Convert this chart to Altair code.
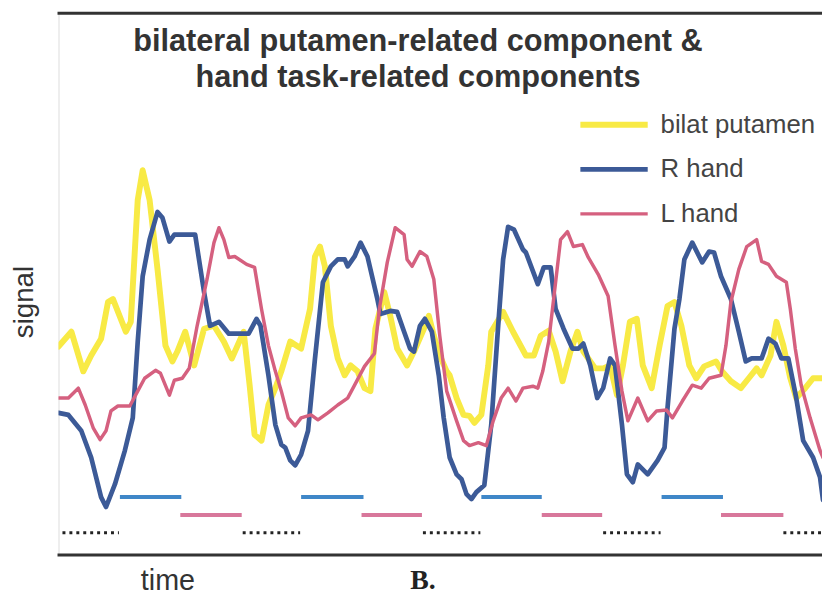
import altair as alt
import pandas as pd

# ---------------- data (arbitrary units) ----------------
series_names = ["bilat putamen", "R hand", "L hand"]
series_colors = ["#F8EA45", "#3C5A97", "#D5607F"]
series_widths = [6, 3.5, 3]

title_lines = ["bilateral putamen-related component &", "hand task-related components"]
y_label = "signal"
x_label = "time"
panel_label = "B."

put_t = [0,13,25,33,43,50,55,68,73,80,85,92,100,108,115,120,128,137,147,157,167,175,187,193,198,205,212,219,225,234,
         245,254,259,264,269,275,282,289,295,302,309,315,320,329,335,342,352,359,369,374,379,385,392,395,402,409,415,420,427,434,
         437,449,459,472,480,487,495,502,509,517,524,530,542,550,557,564,570,577,584,590,599,607,615,622,629,637,644,652,664,670,
         679,689,697,705,710,719,725,732,739,745,754,762,772]
put_s = [210,225,185,201,218,255,258,225,235,358,388,358,288,211,195,205,225,191,228,231,215,198,225,171,121,115,151,168,185,215,
         208,248,301,311,291,231,198,181,191,185,168,165,228,265,241,208,191,205,228,241,221,201,185,181,158,141,140,133,141,191,
         225,245,225,201,201,221,226,205,175,205,225,205,188,188,191,161,191,235,238,191,168,211,251,255,231,191,178,190,195,185,
         175,168,178,188,181,201,235,211,178,158,168,178,178]

rh_t = [0,10,23,33,43,48,57,67,75,80,85,92,100,105,112,117,138,147,153,162,172,192,200,204,212,219,225,229,234,239,
        245,252,259,267,275,282,289,292,299,305,312,322,325,335,342,349,355,359,365,370,377,384,389,395,402,407,412,417,422,430,
        437,444,449,454,460,469,472,484,490,497,502,510,519,525,530,537,544,550,557,562,569,574,580,585,595,605,612,615,622,627,
        632,640,650,657,662,669,679,687,694,700,710,717,724,730,737,745,752,762,769,772]
rh_s = [143,141,125,98,58,48,71,105,138,215,281,318,346,340,316,323,323,265,231,235,223,223,238,231,181,131,111,108,95,90,
        101,125,198,275,291,298,298,291,301,315,301,258,243,246,245,225,208,205,231,238,225,181,138,98,81,76,61,56,63,70,
        131,231,298,331,328,308,305,273,290,290,248,228,208,208,213,191,158,168,198,191,131,81,73,91,81,95,108,148,228,258,
        298,315,295,306,305,281,258,225,195,198,198,218,213,198,198,158,115,98,78,55]

lh_t = [0,10,20,27,35,42,48,53,60,72,80,87,98,103,112,117,125,132,140,150,157,162,167,172,178,190,198,205,212,219,
        225,232,239,245,255,262,272,282,292,299,309,319,324,332,340,349,352,357,365,372,379,385,392,402,409,415,424,432,439,447,
        454,462,469,479,484,489,495,500,507,514,520,529,535,545,555,562,569,575,585,595,604,614,620,630,640,649,657,669,674,679,
        687,695,705,710,717,725,735,739,744,750,759,769,772]
lh_s = [158,158,168,151,128,116,125,145,150,150,165,178,186,183,161,176,178,188,231,278,315,330,318,300,301,293,290,248,211,185,
        165,138,130,138,141,136,143,151,158,171,190,203,248,295,330,323,298,291,306,301,278,221,165,135,115,110,113,110,135,158,
        168,155,168,170,168,185,215,258,318,326,311,313,300,283,261,211,165,135,158,135,145,146,138,155,171,168,178,181,211,255,
        288,311,318,296,293,281,275,248,208,171,138,105,98]

# task blocks (time units)
r_start = [62, 245, 427, 609]
r_end = [124, 308, 488, 671]
l_start = [123, 306, 488, 669]
l_end = [185, 367, 549, 732]
rest_start = [4, 186, 368, 550, 732]
rest_end = [61, 244, 426, 608, 772]
block_level = {"R": 58, "L": 40, "rest": 22}

T_MAX = 771
S_MAX = 547

# ---------------- tables ----------------
rows = []
for name, ts, ss in [(series_names[0], put_t, put_s), (series_names[1], rh_t, rh_s), (series_names[2], lh_t, lh_s)]:
    for i, (t, s) in enumerate(zip(ts, ss)):
        rows.append({"series": name, "time": t, "signal": s, "i": i})
lines_df = pd.DataFrame(rows)

blk = []
for k, st, en in [("R", r_start, r_end), ("L", l_start, l_end), ("rest", rest_start, rest_end)]:
    for a, b in zip(st, en):
        blk.append({"kind": k, "start": a, "end": b, "level": block_level[k]})
blocks_df = pd.DataFrame(blk)

FONT = "Liberation Sans"
xscale = alt.Scale(domain=[0, T_MAX], nice=False, zero=False)
yscale = alt.Scale(domain=[0, S_MAX], nice=False, zero=False)

legend_cfg = dict(
    orient="none", legendX=548, legendY=100, title=None,
    symbolType="M-4,0H4", symbolSize=289, labelFontSize=26, labelFont=FONT,
    labelColor="#444444", rowPadding=19, labelOffset=34, symbolOffset=0,
    labelLimit=400, padding=0,
)

lines = alt.Chart(lines_df).mark_line(clip=True, strokeJoin="round", strokeCap="round").encode(
    x=alt.X("time:Q", scale=xscale,
            axis=alt.Axis(orient="bottom", domain=True, domainColor="#333333", domainWidth=3, domainCap="square",
                          ticks=False, labels=False, grid=False, title=x_label,
                          titleFont=FONT, titleFontSize=29, titleFontWeight="normal", titleColor="#333333",
                          titleX=110, titleY=35, titleBaseline="alphabetic", titleAlign="center")),
    y=alt.Y("signal:Q", scale=yscale,
            axis=alt.Axis(domain=True, domainColor="#333333", domainWidth=3, domainCap="square",
                          ticks=False, labels=False, grid=False, title=None)),
    color=alt.Color("series:N", scale=alt.Scale(domain=series_names, range=series_colors),
                    legend=alt.Legend(**legend_cfg)),
    strokeWidth=alt.StrokeWidth("series:N", scale=alt.Scale(domain=series_names, range=series_widths),
                                legend=alt.Legend(**legend_cfg)),
    order="i:Q",
)

seg_base = alt.Chart(blocks_df)

def seg_layer(kind, color, width, dash=None, top_axis=False):
    mk = dict(color=color, strokeWidth=width, strokeCap="butt", clip=True)
    if dash:
        mk["strokeDash"] = dash
    if top_axis:
        xax = alt.Axis(orient="top", domain=True, domainColor="#333333", domainWidth=3, domainCap="square",
                       ticks=False, labels=False, grid=False, title=None)
    else:
        xax = None
    return seg_base.transform_filter(alt.datum.kind == kind).mark_rule(**mk).encode(
        x=alt.X("start:Q", scale=xscale, axis=xax),
        x2="end:Q",
        y=alt.Y("level:Q", scale=yscale, axis=None),
    )

segs_r = seg_layer("R", "#3F87C8", 4)
segs_l = seg_layer("L", "#D8779B", 4)
segs_rest = seg_layer("rest", "#222222", 3, dash=[3, 4], top_axis=True)

one = pd.DataFrame({"k": [0]})

title_txt = alt.Chart(one).mark_text(
    text=title_lines, font=FONT, fontSize=31, fontWeight="bold", color="#333333",
    align="center", baseline="alphabetic", lineHeight=36,
).encode(x=alt.value(363), y=alt.value(39))

signal_txt = alt.Chart(one).mark_text(
    text=y_label, font=FONT, fontSize=28, color="#333333", angle=270,
    align="center", baseline="alphabetic",
).encode(x=alt.value(-26), y=alt.value(292))

b_txt = alt.Chart(one).mark_text(
    text=panel_label, font="Liberation Serif", fontSize=28, fontWeight="bold", color="#222222",
    align="center", baseline="alphabetic",
).encode(x=alt.value(368), y=alt.value(582))

chart = alt.layer(segs_r, segs_l, segs_rest, lines, title_txt, signal_txt, b_txt).resolve_axis(
    x="independent"
).properties(
    width=771, height=547,
    padding={"left": 51, "top": 2, "right": 0, "bottom": 41},
    autosize=alt.AutoSizeParams(type="none"),
).configure_view(stroke=None).configure(background="white")

chart.save("out.html", embed_options={"renderer": "svg", "actions": False})
